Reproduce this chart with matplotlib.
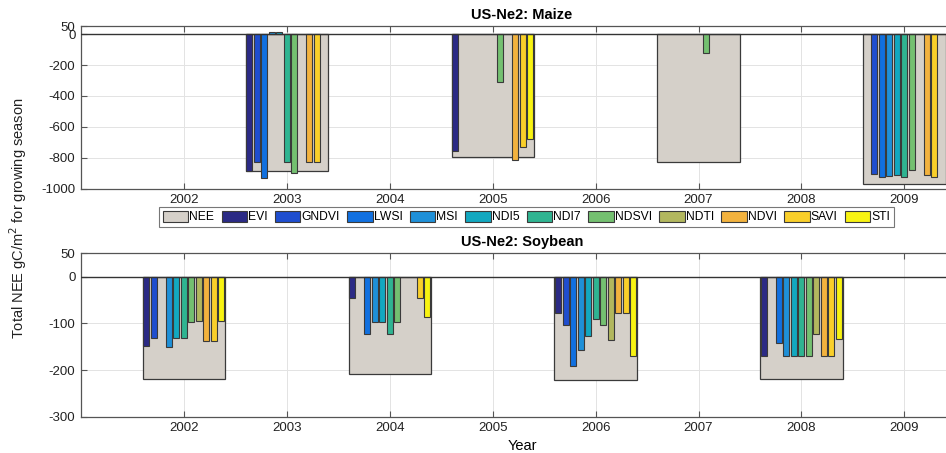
import numpy as np
import matplotlib
matplotlib.use("Agg")
import matplotlib.pyplot as plt
from matplotlib.patches import Patch

nan = np.nan
indices = ["EVI", "GNDVI", "LWSI", "MSI", "NDI5", "NDI7", "NDSVI", "NDTI", "NDVI", "SAVI", "STI"]

maize_years = [2003, 2005, 2007, 2009]
maize_nee = [-885, -793, -826, -972]
maize_evi = [-884, -757, nan, nan]
maize_gndvi = [-828, nan, nan, -906]
maize_lwsi = [-933, nan, nan, -927]
maize_msi = [12, nan, nan, -918]
maize_ndi5 = [12, nan, nan, -914]
maize_ndi7 = [-828, nan, nan, -923]
maize_ndsvi = [-901, -312, -124, -880]
maize_ndti = [nan, nan, nan, nan]
maize_ndvi = [-828, -815, nan, -914]
maize_savi = [-828, -733, nan, -923]
maize_sti = [nan, -679, nan, nan]

soy_years = [2002, 2004, 2006, 2008]
soy_nee = [-219, -208, -221, -220]
soy_evi = [-148, -45, -78, -170]
soy_gndvi = [-131, nan, -103, nan]
soy_lwsi = [nan, -123, -191, -143]
soy_msi = [-151, -98, -157, -170]
soy_ndi5 = [-132, -98, -126, -170]
soy_ndi7 = [-132, -123, -91, -170]
soy_ndsvi = [-98, -98, -103, -170]
soy_ndti = [-95, nan, -136, -123]
soy_ndvi = [-138, nan, -78, -170]
soy_savi = [-138, -45, -78, -170]
soy_sti = [-95, -86, -170, -134]

year_ticks = [2002, 2003, 2004, 2005, 2006, 2007, 2008, 2009]
maize_yticks = [50, 0, -200, -400, -600, -800, -1000]
soy_yticks = [50, 0, -100, -200, -300]

nee_color = "#d5d0c9"
colors = ["#2b2a85", "#1f4ecf", "#1170e0", "#1f90d8", "#12a8c0", "#2fb491",
          "#74c070", "#b2b75e", "#f2b23e", "#f9cf2a", "#f8f312"]

maize_series = [maize_evi, maize_gndvi, maize_lwsi, maize_msi, maize_ndi5, maize_ndi7,
                maize_ndsvi, maize_ndti, maize_ndvi, maize_savi, maize_sti]
soy_series = [soy_evi, soy_gndvi, soy_lwsi, soy_msi, soy_ndi5, soy_ndi7,
              soy_ndsvi, soy_ndti, soy_ndvi, soy_savi, soy_sti]

plt.rcParams['font.family'] = ['Liberation Sans', 'DejaVu Sans']
plt.rcParams['axes.unicode_minus'] = False
W, H = 946, 453
fig = plt.figure(figsize=(W / 100, H / 100), dpi=100)

edge = "#3a3a3a"
spine_c = "#555555"


def draw(ax, years, nee, series, yticks, ylim, title):
    years = np.array(years, dtype=float)
    group_w = 0.8
    slot = group_w / len(series)
    ax.bar(years, nee, width=group_w, color=nee_color, edgecolor=edge, linewidth=0.9, zorder=2)
    for i, (vals, c) in enumerate(zip(series, colors)):
        x = years - group_w / 2 + slot * (i + 0.5)
        ax.bar(x, vals, width=slot * 0.8, color=c, edgecolor=edge, linewidth=0.8, zorder=3)
    ax.axhline(0, color="#333333", linewidth=1.0, zorder=4)
    ax.set_xlim(2001, 2009.57)
    ax.set_ylim(*ylim)
    ax.set_xticks(year_ticks)
    ax.set_yticks(yticks)
    ax.tick_params(direction="in", length=4, width=0.8, color=spine_c, labelsize=9.5,
                   top=True, right=False, labelcolor="#222222", pad=4)
    ax.grid(True, color="#e3e3e3", linewidth=0.7, zorder=0)
    ax.set_axisbelow(True)
    for s in ax.spines.values():
        s.set_color(spine_c)
        s.set_linewidth(0.9)
    ax.set_title(title, fontsize=10.5, fontweight="bold", pad=5)


left = 81 / W
width = (963 - 81) / W
ax1 = fig.add_axes([left, 1 - 188.6 / H, width, (188.6 - 26.4) / H])
draw(ax1, maize_years, maize_nee, maize_series, maize_yticks, (-1000, 50), "US-Ne2: Maize")

ax2 = fig.add_axes([left, 1 - 416.8 / H, width, (416.8 - 253.3) / H])
draw(ax2, soy_years, soy_nee, soy_series, soy_yticks, (-300, 50), "US-Ne2: Soybean")
ax2.set_xlabel("Year", fontsize=10.5, labelpad=3)

handles = [Patch(facecolor=nee_color, edgecolor=edge, linewidth=0.8, label="NEE")]
for name, c in zip(indices, colors):
    handles.append(Patch(facecolor=c, edgecolor=edge, linewidth=0.8, label=name))
leg = fig.legend(handles=handles, loc="center", bbox_to_anchor=(526.5 / W, 1 - 217 / H),
                 ncol=12, fontsize=8.7, frameon=True, fancybox=False, handlelength=2.1,
                 handleheight=1.05, handletextpad=0.1, columnspacing=0.6, borderpad=0.3)
leg.get_frame().set_edgecolor("#555555")
leg.get_frame().set_linewidth(0.8)

fig.text(18 / W, 1 - 218 / H, "Total NEE gC/m$^2$ for growing season", rotation=90,
         ha="center", va="center", fontsize=10.5, color="#222222")

fig.savefig("out.png", dpi=100)
